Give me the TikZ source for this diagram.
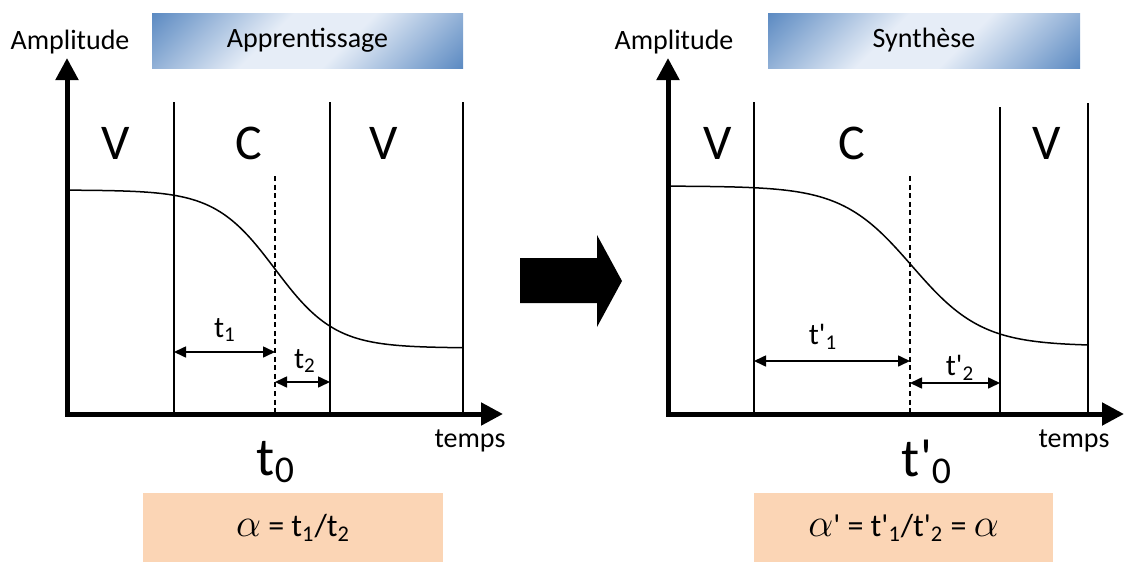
\documentclass[tikz,border=0pt]{standalone}
\usepackage{fontspec}
\setmainfont{Carlito}
\usetikzlibrary{arrows.meta}
\definecolor{peach}{HTML}{FBD5B5}
\definecolor{tblue}{HTML}{4F81BD}
\definecolor{tlight}{HTML}{E6EDF7}
\pgfdeclareverticalshading{titleshade}{100bp}{color(0bp)=(tblue); color(12bp)=(tblue); color(42bp)=(tlight); color(58bp)=(tlight); color(88bp)=(tblue); color(100bp)=(tblue)}
\newcommand\qs{\textquotesingle}
\newcommand\alp{\scalebox{1.15}{$\alpha$}}
\begin{document}
\begin{tikzpicture}[x=0.5pt,y=-0.5pt,
  axis/.style={line width=2.5pt,-{Triangle[length=11pt,width=11pt]}},
  vline/.style={line width=0.75pt},
  dline/.style={line width=0.75pt,dash pattern=on 2.5pt off 1.8pt},
  curve/.style={line width=0.75pt},
  dim/.style={line width=0.8pt,{Triangle[length=6pt,width=5.5pt]}-{Triangle[length=6pt,width=5.5pt]}},
  big/.style={inner sep=0pt,font=\fontsize{25}{30}\selectfont},
  lab/.style={inner sep=0pt,font=\fontsize{14}{17}\selectfont},
  sublab/.style={inner sep=0pt,font=\fontsize{15}{18}\selectfont},
  tlab/.style={inner sep=0pt,font=\fontsize{27}{32}\selectfont},
  titlebox/.style={shading=titleshade,shading angle=45,
    minimum height=27.5pt,inner sep=0pt,font=\fontsize{14}{17}\selectfont},
  resbox/.style={fill=peach,minimum height=34.5pt,inner sep=0pt,font=\fontsize{16}{19}\selectfont}]
\useasboundingbox (0,0) rectangle (1125,562);

% ================= LEFT PANEL =================
\coordinate (yb1) at (67,416);
\coordinate (yt1) at (67,58);
\coordinate (xb1) at (65,414);
\coordinate (xt1) at (503,414);

\node[titlebox,minimum width=155.5pt] (title1) at (307.5,40.5) {Apprentissage};
\node[lab] (amp1) at (70,42) {Amplitude};

\coordinate (a1t) at (174,102); \coordinate (a1b) at (174,414);
\coordinate (b1t) at (330,102); \coordinate (b1b) at (330,414);
\coordinate (c1t) at (463,102); \coordinate (c1b) at (463,414);
\coordinate (d1t) at (275,176); \coordinate (d1b) at (275,414);
\draw[vline] (a1t) -- (a1b);
\draw[vline] (b1t) -- (b1b);
\draw[vline] (c1t) -- (c1b);
\draw[dline] (d1t) -- (d1b);

\draw[curve] plot[domain=67:463,samples=120] (\x,{269+79*tanh((\x-275)/60)});

\node[big] (v1a) at (116,143) {V};
\node[big] (c1) at (249,143) {C};
\node[big] (v1b) at (384,143) {V};

\coordinate (p1a) at (174,352); \coordinate (p1b) at (275,352);
\coordinate (p2a) at (275,382); \coordinate (p2b) at (330,382);
\draw[dim] (p1a) -- (p1b);
\draw[dim] (p2a) -- (p2b);
\node[sublab] (t1) at (225,330) {t\textsubscript{1}};
\node[sublab] (t2) at (305,361) {t\textsubscript{2}};

\draw[axis] (yb1) -- (yt1);
\draw[axis] (xb1) -- (xt1);

\node[tlab] (t0) at (276,462) {t\textsubscript{0}};
\node[lab] (temps1) at (470,441) {temps};

\node[resbox,minimum width=150pt] (res1) at (293,527.5) {\alp{} = t\textsubscript{1}/t\textsubscript{2}};

% ================= BIG ARROW =================
\fill (520,258) -- (597,258) -- (597,235) -- (622,281) -- (597,327) -- (597,303) -- (520,303) -- cycle;

% ================= RIGHT PANEL =================
\coordinate (yb2) at (668,416);
\coordinate (yt2) at (668,58);
\coordinate (xb2) at (666,414);
\coordinate (xt2) at (1124,414);

\node[titlebox,minimum width=156pt] (title2) at (924,40.5) {Synthèse};
\node[lab] (amp2) at (674,42) {Amplitude};

\coordinate (a2t) at (754,102); \coordinate (a2b) at (754,414);
\coordinate (b2t) at (1000,107); \coordinate (b2b) at (1000,414);
\coordinate (c2t) at (1088,103); \coordinate (c2b) at (1088,414);
\coordinate (d2t) at (910,176); \coordinate (d2b) at (910,414);
\draw[vline] (a2t) -- (a2b);
\draw[vline] (b2t) -- (b2b);
\draw[vline] (c2t) -- (c2b);
\draw[dline] (d2t) -- (d2b);

\draw[curve] plot[domain=668:1088,samples=120] (\x,{266+80*tanh((\x-912)/70)});

\node[big] (v2a) at (718,143) {V};
\node[big] (c2) at (852,143) {C};
\node[big] (v2b) at (1047,143) {V};

\coordinate (q1a) at (754,361); \coordinate (q1b) at (910,361);
\coordinate (q2a) at (910,383); \coordinate (q2b) at (1000,383);
\draw[dim] (q1a) -- (q1b);
\draw[dim] (q2a) -- (q2b);
\node[sublab] (tp1) at (823,337) {t\qs\textsubscript{1}};
\node[sublab] (tp2) at (960,368) {t\qs\textsubscript{2}};

\draw[axis] (yb2) -- (yt2);
\draw[axis] (xb2) -- (xt2);

\node[tlab] (tp0) at (927,462) {t\qs\textsubscript{0}};
\node[lab] (temps2) at (1074,441) {temps};

\node[resbox,minimum width=149.5pt] (res2) at (903.5,527.5) {\alp\qs{} = t\qs\textsubscript{1}/t\qs\textsubscript{2} = \alp};
\end{tikzpicture}
\end{document}
